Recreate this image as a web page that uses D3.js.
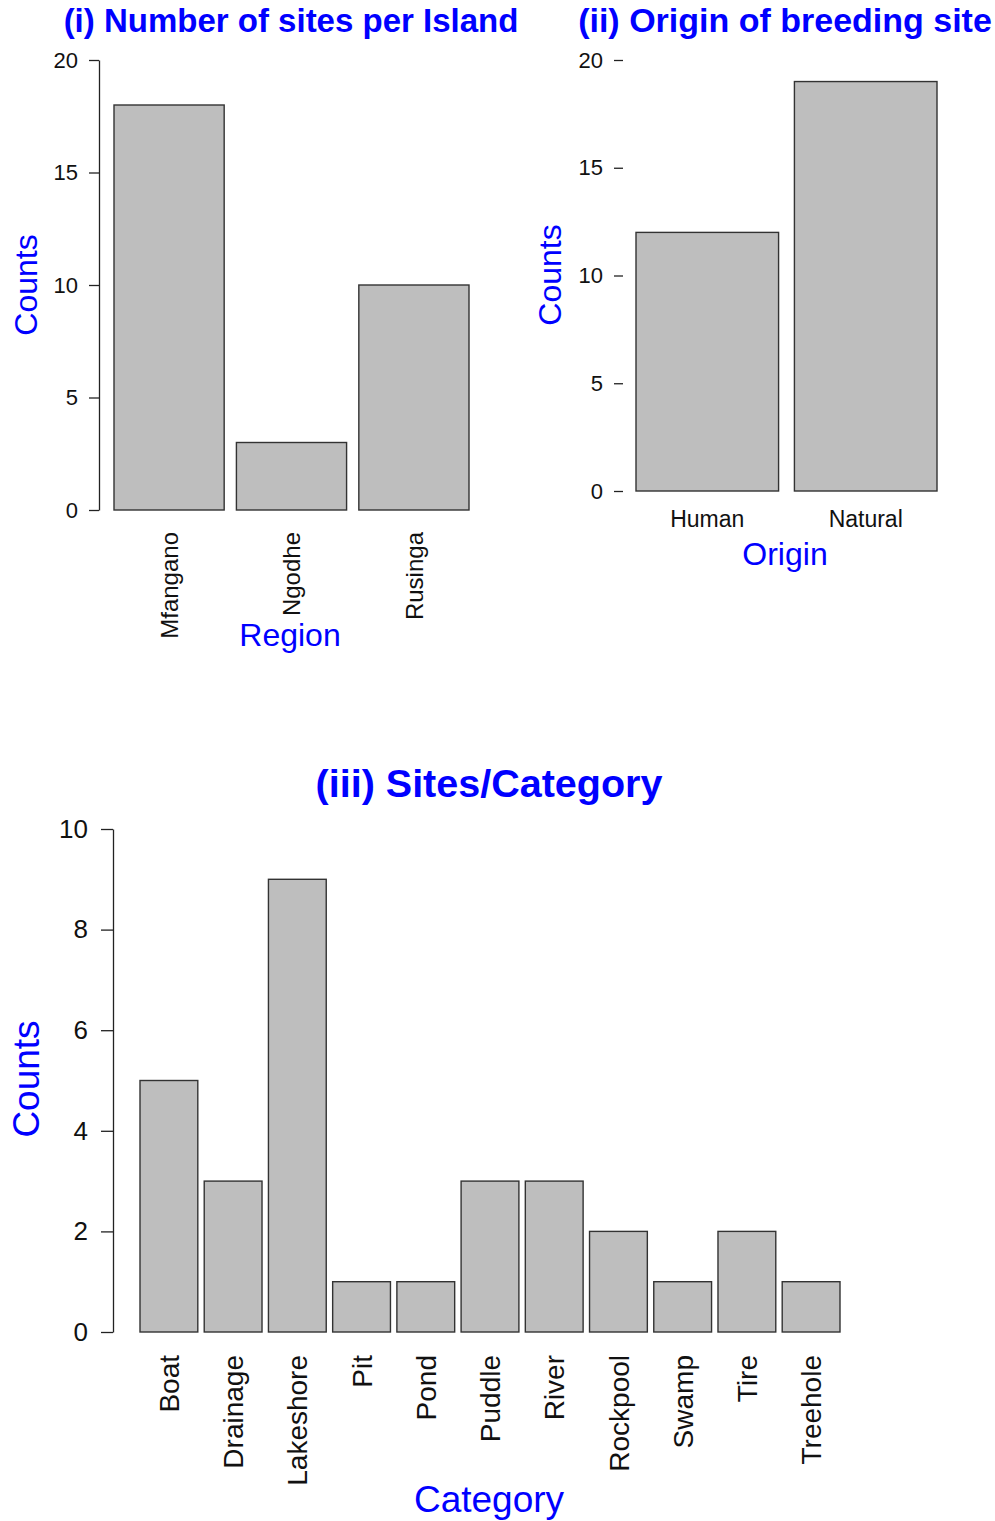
<!DOCTYPE html>
<html>
<head>
<meta charset="utf-8">
<script src="https://cdn.jsdelivr.net/npm/d3@7"></script>
<style>
    body { margin: 0; background: #fff; }
    svg { font-family: "Liberation Sans", Arial, sans-serif; }
</style>
</head>
<body>
<svg id="chart" width="995" height="1521"></svg>
<script>
// data
const islands = ["Mfangano", "Ngodhe", "Rusinga"];
const islandCounts = [18, 3, 10];

const origins = ["Human", "Natural"];
const originCounts = [12, 19];

const categories = ["Boat", "Drainage", "Lakeshore", "Pit", "Pond", "Puddle", "River", "Rockpool", "Swamp", "Tire", "Treehole"];
const categoryCounts = [5, 3, 9, 1, 1, 3, 3, 2, 1, 2, 1];

const ticks20 = [0, 5, 10, 15, 20];
const ticks10 = [0, 2, 4, 6, 8, 10];

const svg = d3.select("#chart");
const barFill = "#bebebe", barStroke = "#333", axisColor = "#222";

function drawBars(cfg) {
    const xs = d3.scaleBand().domain(cfg.cats).range(cfg.xRange).paddingInner(0.1).paddingOuter(0);
    const ys = d3.scaleLinear().domain(cfg.yDomain).range(cfg.yRange);
    const g = svg.append("g");

    g.selectAll("rect").data(cfg.cats).enter().append("rect")
        .attr("x", d => xs(d))
        .attr("y", (d, i) => ys(cfg.vals[i]))
        .attr("width", xs.bandwidth())
        .attr("height", (d, i) => ys(0) - ys(cfg.vals[i]))
        .attr("fill", barFill)
        .attr("stroke", barStroke)
        .attr("stroke-width", 1.4);

    // y axis
    const ax = g.append("g").attr("transform", `translate(${cfg.axisX}, 0)`)
        .call(d3.axisLeft(ys).tickValues(cfg.ticks).tickSize(cfg.tickSize).tickPadding(cfg.tickPad).tickSizeOuter(0));
    ax.selectAll("path, line").attr("stroke", axisColor).attr("stroke-width", 1.3);
    if (!cfg.axisLine) ax.select(".domain").remove();
    ax.selectAll("text").attr("font-size", cfg.tickFont).attr("fill", "#111").attr("font-family", null);

    // category labels
    if (cfg.rotate) {
        g.selectAll("text.cat").data(cfg.cats).enter().append("text")
            .attr("class", "cat")
            .attr("transform", d => `translate(${xs(d) + xs.bandwidth() / 2}, ${ys(0) + cfg.labelGap}) rotate(-90)`)
            .attr("dy", "0.36em")
            .attr("text-anchor", "end")
            .attr("font-size", cfg.catFont)
            .attr("fill", "#111")
            .text(d => d);
    } else {
        g.selectAll("text.cat").data(cfg.cats).enter().append("text")
            .attr("class", "cat")
            .attr("x", d => xs(d) + xs.bandwidth() / 2)
            .attr("y", cfg.catY)
            .attr("text-anchor", "middle")
            .attr("font-size", cfg.catFont)
            .attr("fill", "#111")
            .text(d => d);
    }

    // titles
    g.append("text").attr("x", cfg.titleX).attr("y", cfg.titleY)
        .attr("text-anchor", "middle").attr("font-weight", "bold")
        .attr("font-size", cfg.titleFont).attr("fill", "blue").text(cfg.title);
    g.append("text").attr("x", cfg.xLabX).attr("y", cfg.xLabY)
        .attr("text-anchor", "middle").attr("font-size", cfg.labFont)
        .attr("fill", "blue").text(cfg.xLab);
    g.append("text").attr("transform", `translate(${cfg.yLabX}, ${cfg.yLabY}) rotate(-90)`)
        .attr("text-anchor", "middle").attr("font-size", cfg.labFont)
        .attr("fill", "blue").text("Counts");
}

drawBars({
    cats: islands, vals: islandCounts, xRange: [114, 469],
    yDomain: [0, 20], yRange: [510, 60], ticks: ticks20,
    axisX: 99, axisLine: true, tickSize: 10, tickPad: 11, tickFont: 22,
    rotate: true, labelGap: 22, catFont: 24,
    title: "(i) Number of sites per Island", titleX: 291, titleY: 32, titleFont: 33,
    xLab: "Region", xLabX: 290, xLabY: 646, labFont: 32,
    yLabX: 37, yLabY: 285
});

drawBars({
    cats: origins, vals: originCounts, xRange: [636, 937],
    yDomain: [0, 20], yRange: [491, 60], ticks: ticks20,
    axisX: 623, axisLine: false, tickSize: 9, tickPad: 11, tickFont: 22,
    rotate: false, catY: 527, catFont: 23,
    title: "(ii) Origin of breeding site", titleX: 785, titleY: 32, titleFont: 34,
    xLab: "Origin", xLabX: 785, xLabY: 565, labFont: 32,
    yLabX: 561, yLabY: 275
});

drawBars({
    cats: categories, vals: categoryCounts, xRange: [140, 840],
    yDomain: [0, 10], yRange: [1332, 829], ticks: ticks10,
    axisX: 113, axisLine: true, tickSize: 12, tickPad: 13, tickFont: 26,
    rotate: true, labelGap: 23, catFont: 28,
    title: "(iii) Sites/Category", titleX: 489, titleY: 797, titleFont: 39.5,
    xLab: "Category", xLabX: 489, xLabY: 1512, labFont: 37,
    yLabX: 39, yLabY: 1079
});
</script>
</body>
</html>
